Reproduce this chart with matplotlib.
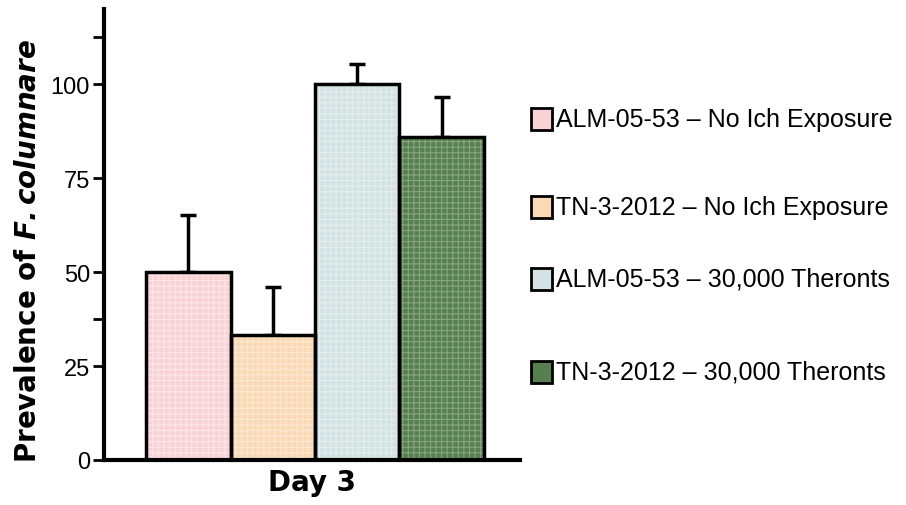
import matplotlib
matplotlib.use("Agg")
import matplotlib.pyplot as plt
from matplotlib.patches import Rectangle

groups = ["ALM-05-53 \u2013 No Ich Exposure", "TN-3-2012 \u2013 No Ich Exposure",
          "ALM-05-53 \u2013 30,000 Theronts", "TN-3-2012 \u2013 30,000 Theronts"]
values = [50, 33.3, 100, 86]
errors = [15.2, 12.8, 5.3, 10.5]
colors = ["#f8d2d5", "#fbd9b4", "#d3e2e2", "#587f50"]
hatch_colors = ["#fde6e8", "#fde9d2", "#e4eeee", "#86a67e"]
yticks = [0, 25, 50, 75, 100]
minor_ticks = [37.5, 112.5]
xlabel = "Day 3"

plt.rcParams['font.family'] = ['Liberation Sans', 'DejaVu Sans']
plt.rcParams['hatch.linewidth'] = 0.8
fig = plt.figure(figsize=(9.06, 5.06), dpi=100)
ax = fig.add_axes([104/906, 1-461/506, 416/906, 451/506])

x = list(range(len(values)))
ax.bar(x, values, width=1.0, color=colors, edgecolor=hatch_colors, hatch='+++', linewidth=0, zorder=2)
ax.bar(x, values, width=1.0, color='none', edgecolor='black', linewidth=2.5, zorder=3)
ax.errorbar(x, values, yerr=[[0]*4, errors], fmt='none', ecolor='black', elinewidth=2.5,
            capsize=5.5, capthick=2.5, zorder=1)

ax.set_xlim(-1.0, 3.93)
ax.set_ylim(0, 120)
ax.set_yticks(yticks)
ax.set_yticks(minor_ticks, minor=True)
ax.set_xticks([])
ax.tick_params(axis='y', which='both', length=8, width=2, labelsize=17, pad=2)
for s in ['top', 'right']:
    ax.spines[s].set_visible(False)
for s in ['left', 'bottom']:
    ax.spines[s].set_linewidth(3)
ax.set_xlabel(xlabel, fontsize=20, fontweight='bold', family='DejaVu Sans', labelpad=6)
ax.set_ylabel("Prevalence of $\\bfit{F. columnare}$", fontsize=20, fontweight='bold',
              family='DejaVu Sans')
ax.yaxis.set_label_coords(-0.15, 0.465)

ys = [120, 208, 280, 373]
for lab, c, y in zip(groups, colors, ys):
    fig.patches.append(Rectangle((531/906, 1-(y+11)/506), 21/906, 22/506,
                                 transform=fig.transFigure, facecolor=c,
                                 edgecolor='black', linewidth=2))
    fig.text(556/906, 1-y/506, lab, fontsize=18, va='center', ha='left')

fig.savefig("out.png", dpi=100)
